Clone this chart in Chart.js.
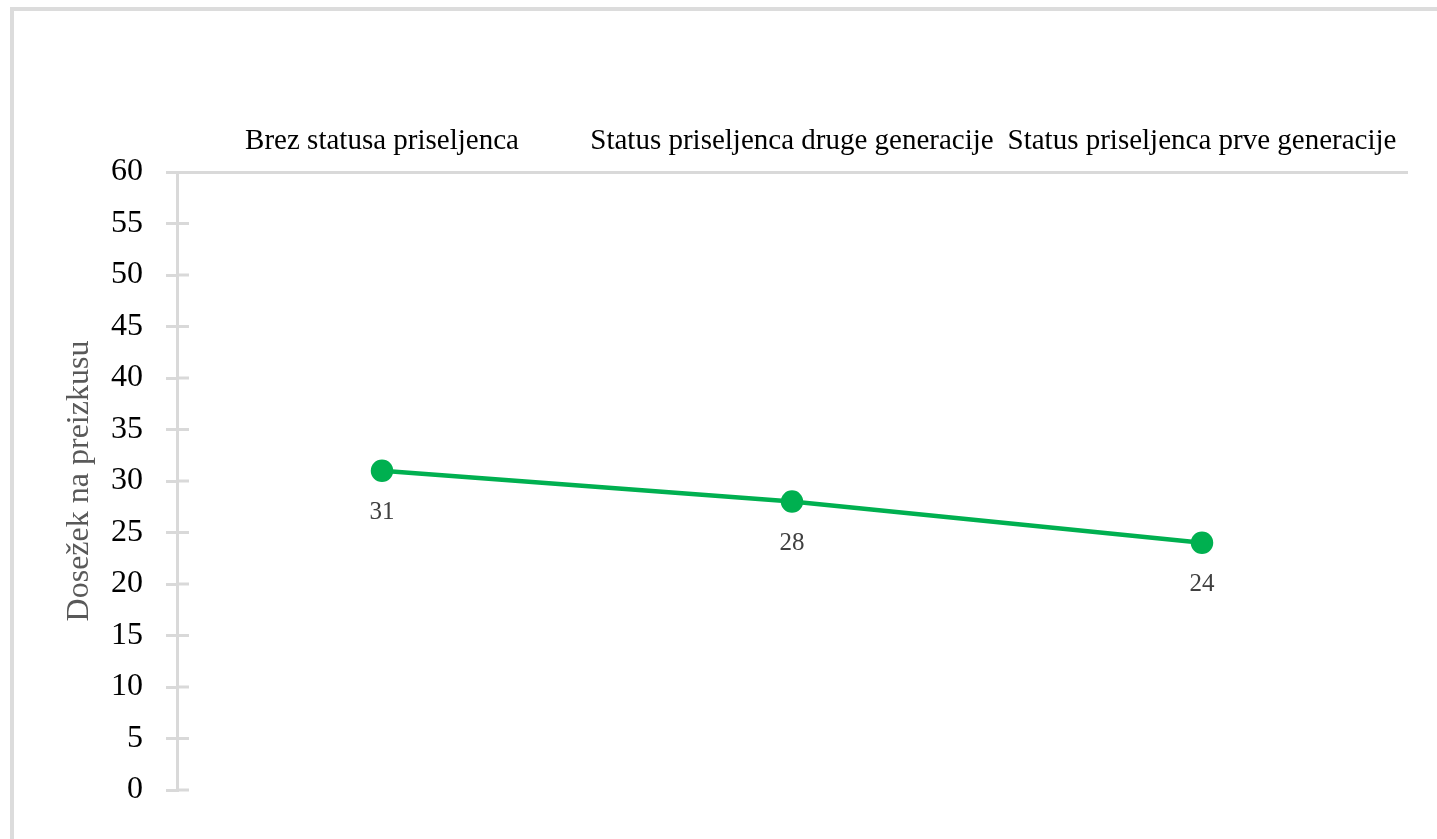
<!DOCTYPE html>
<html>
<head>
<meta charset="utf-8">
<script src="https://cdn.jsdelivr.net/npm/chart.js@4"></script>
<style>
  html, body { margin: 0; padding: 0; background: #fff; overflow: hidden; }
  #frame {
    position: absolute; left: 10px; top: 7px;
    width: 1500px; height: 900px;
    border: 4px solid #dcdcdc; box-sizing: border-box;
  }
  #wrap { position: absolute; left: 0; top: 0; width: 1437px; height: 839px; }
</style>
</head>
<body>
<div id="frame"></div>
<div id="wrap"><canvas id="chart"></canvas></div>
<script>
const categories = [
  "Brez statusa priseljenca",
  "Status priseljenca druge generacije",
  "Status priseljenca prve generacije"
];
const scores = [31, 28, 24];
const yTitle = "Dosežek na preizkusu";

const AXIS = "#d9d9d9";
const GREEN = "#00b050";

// ticks that cross the y axis line (Excel style)
const crossTicks = {
  id: "crossTicks",
  afterDraw(chart) {
    const y = chart.scales.y;
    const ctx = chart.ctx;
    ctx.save();
    ctx.strokeStyle = AXIS;
    ctx.lineWidth = 3;
    y.ticks.forEach((t) => {
      if (t.value === 60) return;
      const py = y.getPixelForValue(t.value);
      ctx.beginPath();
      ctx.moveTo(y.right, py);
      ctx.lineTo(y.right + 12, py);
      ctx.stroke();
    });
    ctx.restore();
  }
};

// value labels under the points
const valueLabels = {
  id: "valueLabels",
  afterDatasetsDraw(chart) {
    const ctx = chart.ctx;
    const meta = chart.getDatasetMeta(0);
    ctx.save();
    ctx.font = "25px 'Liberation Serif'";
    ctx.fillStyle = "#404040";
    ctx.textAlign = "center";
    ctx.textBaseline = "middle";
    meta.data.forEach((pt, i) => {
      ctx.fillText(String(scores[i]), pt.x, pt.y + 42);
    });
    ctx.restore();
  }
};

const ctx = document.getElementById("chart").getContext("2d");
new Chart(ctx, {
  type: "line",
  data: {
    labels: categories,
    datasets: [{
      data: scores,
      borderColor: GREEN,
      backgroundColor: GREEN,
      borderWidth: 4.5,
      pointRadius: 9,
      pointHoverRadius: 9,
      tension: 0
    }]
  },
  options: {
    responsive: true,
    maintainAspectRatio: false,
    animation: false,
    layout: { padding: { left: 60, right: 30, top: 0, bottom: 49 } },
    plugins: { legend: { display: false }, tooltip: { enabled: false } },
    scales: {
      x: {
        position: "top",
        offset: true,
        grid: { display: false, drawTicks: false },
        border: { display: true, color: AXIS, width: 3 },
        ticks: {
          color: "#000",
          padding: 13,
          maxRotation: 0,
          autoSkip: false,
          font: { family: "'Liberation Serif'", size: 29 }
        },
        afterFit(scale) { scale.height = 172; }
      },
      y: {
        min: 0,
        max: 60,
        ticks: {
          stepSize: 5,
          color: "#000",
          padding: 23,
          font: { family: "'Liberation Serif'", size: 32 }
        },
        grid: {
          drawOnChartArea: false,
          drawTicks: true,
          tickLength: 11,
          color: AXIS,
          lineWidth: 3
        },
        border: { display: true, color: AXIS, width: 3 },
        title: {
          display: true,
          text: yTitle,
          color: "#595959",
          padding: 0,
          font: { family: "'Liberation Serif'", size: 32 }
        },
        afterFit(scale) { scale.width = 177 - 60; }
      }
    }
  },
  plugins: [crossTicks, valueLabels]
});
</script>
</body>
</html>
